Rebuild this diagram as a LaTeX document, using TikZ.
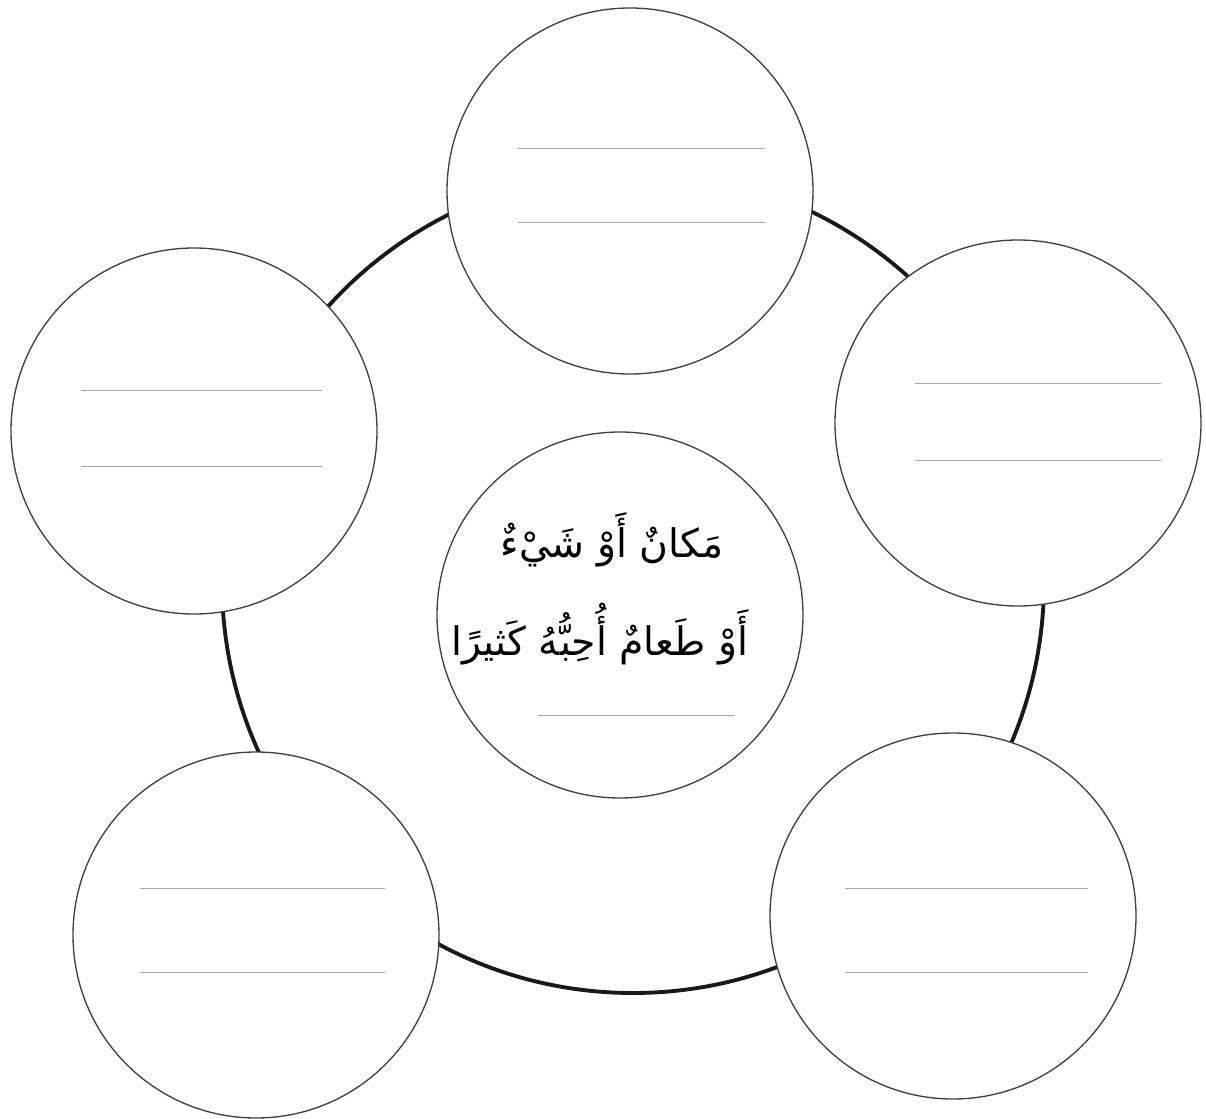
\documentclass[tikz,border=0pt]{standalone}
\usepackage{fontspec}
\newfontfamily\arabicfont[Script=Arabic]{DejaVu Sans}
\TeXXeTstate=1
\begin{document}
\begin{tikzpicture}[x=0.75pt,y=-0.75pt,
  bubble/.style={circle,draw=black!75,line width=1pt,fill=white,minimum size=274.5pt,inner sep=0pt},
  ring/.style={draw=black!90,line width=2.9pt},
  wline/.style={draw=black!35,line width=0.7pt},
  arabtext/.style={font=\arabicfont\fontsize{29.5}{36}\selectfont,inner sep=0pt}]
\useasboundingbox (0,0) rectangle (1206,1119);
\coordinate (C) at (633,582);
\draw[ring] (C) circle[radius=411*0.75pt];
\node[bubble] (top) at (630,191) {};
\node[bubble] (left) at (194,431) {};
\node[bubble] (right) at (1018,423) {};
\node[bubble] (bl) at (256,935) {};
\node[bubble] (br) at (953,916) {};
\node[bubble] (mid) at (620,615) {};
% writing lines
\draw[wline] ([xshift=-84pt,yshift=32pt]top.center) -- ++(185pt,0);
\draw[wline] ([xshift=-84pt,yshift=-23.5pt]top.center) -- ++(185pt,0);
\draw[wline] ([xshift=-85pt,yshift=30.75pt]left.center) -- ++(181pt,0);
\draw[wline] ([xshift=-85pt,yshift=-26.25pt]left.center) -- ++(181pt,0);
\draw[wline] ([xshift=-77pt,yshift=30pt]right.center) -- ++(184pt,0);
\draw[wline] ([xshift=-77pt,yshift=-27.75pt]right.center) -- ++(184pt,0);
\draw[wline] ([xshift=-87pt,yshift=35.25pt]bl.center) -- ++(184pt,0);
\draw[wline] ([xshift=-87pt,yshift=-27.75pt]bl.center) -- ++(184pt,0);
\draw[wline] ([xshift=-81pt,yshift=21pt]br.center) -- ++(182pt,0);
\draw[wline] ([xshift=-81pt,yshift=-42pt]br.center) -- ++(182pt,0);
\draw[wline] ([xshift=-61.5pt,yshift=-75pt]mid.center) -- ++(148pt,0);
% text
\node[arabtext] (t1) at (612,540) {\beginR مَكانٌ أَوْ شَيْءٌ\endR};
\node[arabtext] (t2) at (600,634) {\beginR أَوْ طَعامٌ أُحِبُّهُ كَثيرًا\endR};
\end{tikzpicture}
\end{document}
